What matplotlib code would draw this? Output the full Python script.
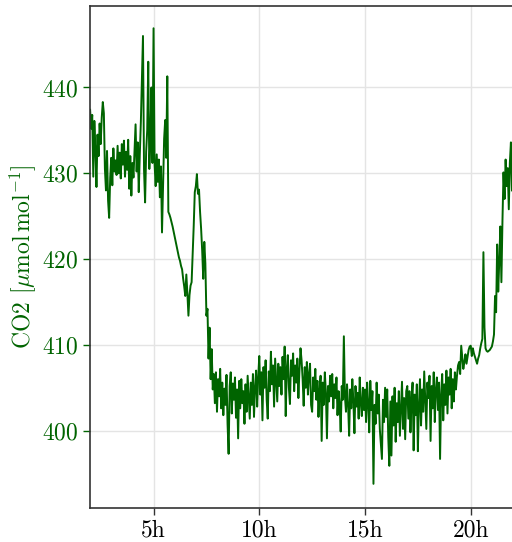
import numpy as np
import matplotlib
matplotlib.use("Agg")
import matplotlib.pyplot as plt

plt.rcParams["font.family"] = ["cmr10", "DejaVu Serif"]
plt.rcParams["mathtext.fontset"] = "cm"
plt.rcParams["axes.formatter.use_mathtext"] = True
plt.rcParams["axes.unicode_minus"] = False

# CO2 readings every 3 minutes, one row per hour of the day (2h .. 21h)
hours = np.arange(2.0, 22.0, 0.05)
co2 = [
    # 2h
    437.4, 435.2, 436.8, 429.6, 436.1, 433.0, 428.4, 434.5, 432.0, 435.8,
    433.4, 436.5, 438.3, 437.0, 430.5, 428.0, 432.6, 426.8, 424.8, 429.5,
    # 3h
    431.8, 428.6, 432.9, 430.2, 431.5, 429.8, 433.2, 430.0, 432.4, 429.4,
    433.4, 431.0, 433.8, 429.6, 432.5, 430.4, 433.9, 428.2, 432.0, 427.4,
    # 4h
    431.2, 429.5, 432.6, 435.7, 430.2, 433.6, 427.8, 432.2, 436.0, 441.0,
    446.0, 430.4, 426.6, 432.5, 435.0, 443.0, 430.5, 434.2, 440.0, 431.2,
    # 5h
    446.9, 431.0, 428.5, 432.2, 429.0, 431.6, 427.2, 430.8, 423.1, 428.4,
    434.0, 436.2, 431.8, 441.3, 425.5, 425.2, 424.8, 424.3, 423.8, 423.2,
    # 6h
    422.6, 422.0, 421.4, 420.8, 420.2, 419.8, 419.2, 418.8, 417.7, 416.8,
    415.7, 418.2, 416.0, 413.4, 415.8, 416.9, 417.3, 420.5, 423.9, 427.8,
    # 7h
    428.5, 429.9, 427.6, 428.1, 425.5, 423.5, 421.0, 417.7, 422.0, 419.5,
    413.4, 414.2, 408.4, 412.0, 406.0, 409.5, 404.8, 406.6, 403.2, 406.8,
    # 8h
    402.2, 406.0, 404.0, 407.2, 402.6, 405.6, 401.8, 404.9, 403.0, 406.5,
    400.8, 397.3, 405.2, 406.8, 402.0, 405.5, 403.6, 406.2, 401.5, 404.8,
    # 9h
    399.1, 405.8, 402.6, 406.0, 403.2, 404.6, 400.8, 405.4, 402.2, 406.4,
    403.8, 401.4, 405.6, 403.0, 406.6, 401.6, 405.0, 407.0, 402.8, 406.2,
    # 10h
    408.7, 404.2, 406.8, 401.2, 407.4, 405.0, 408.2, 403.6, 401.4, 406.9,
    404.6, 409.2, 405.4, 407.6, 402.8, 408.4, 405.8, 403.4, 407.8, 405.2,
    # 11h
    407.4, 404.2, 408.6, 406.0, 409.8, 401.7, 407.2, 408.8, 405.0, 403.1,
    408.2, 406.4, 409.0, 404.6, 407.6, 405.6, 408.4, 403.8, 407.0, 409.6,
    # 12h
    408.2, 406.0, 402.9, 407.4, 405.0, 408.0, 404.2, 406.6, 407.8, 403.0,
    402.2, 406.2, 404.6, 407.2, 403.6, 405.8, 401.6, 404.8, 406.4, 398.8,
    # 13h
    405.6, 403.0, 406.8, 404.4, 399.1, 405.2, 403.4, 406.4, 404.0, 406.6,
    402.6, 405.4, 403.8, 406.2, 401.8, 404.6, 403.0, 399.9, 405.2, 403.6,
    # 14h
    411.0, 404.0, 402.2, 405.4, 403.0, 399.4, 404.8, 402.6, 406.0, 403.4,
    399.7, 405.2, 402.8, 404.4, 401.4, 406.2, 403.2, 401.7, 405.0, 402.4,
    # 15h
    404.8, 401.0, 405.6, 403.2, 399.8, 405.8, 402.4, 404.6, 393.8, 403.0,
    400.8, 405.6, 402.0, 404.2, 400.2, 398.4, 396.7, 403.6, 401.0, 405.0,
    # 16h
    401.6, 404.8, 399.2, 395.9, 403.4, 397.1, 404.0, 400.6, 405.0, 398.7,
    403.2, 401.0, 404.6, 399.4, 402.6, 405.7, 400.2, 403.8, 399.0, 404.6,
    # 17h
    405.2, 401.4, 404.6, 399.8, 403.6, 405.6, 397.7, 404.2, 401.8, 405.4,
    397.6, 403.0, 406.0, 400.6, 404.8, 402.2, 406.9, 403.4, 400.2, 405.6,
    # 18h
    403.8, 406.4, 398.8, 405.2, 402.6, 406.8, 401.0, 404.8, 406.2, 402.4,
    405.6, 396.7, 404.2, 406.6, 401.2, 405.4, 403.0, 407.0, 402.0, 406.2,
    # 19h
    404.2, 407.2, 402.6, 406.0, 403.4, 406.8, 404.8, 406.4, 407.6, 408.0,
    406.6, 409.9, 408.6, 407.2, 408.0, 408.9, 407.8, 408.6, 409.4, 409.8,
    # 20h
    409.9, 408.7, 409.6, 409.0, 408.6, 408.2, 407.8, 408.4, 408.8, 409.6,
    410.2, 410.7, 420.8, 412.0, 409.6, 409.3, 409.2, 409.3, 409.4, 409.6,
    # 21h
    409.8, 410.4, 411.2, 415.7, 413.8, 421.7, 416.2, 419.8, 423.8, 417.3,
    424.4, 430.1, 427.0, 431.6, 428.5, 430.6, 425.8, 431.2, 433.6, 428.0,
]

x_ticks = [5, 10, 15, 20]
x_tick_labels = ["5h", "10h", "15h", "20h"]
y_ticks = [400, 410, 420, 430, 440]

green = "darkgreen"

fig = plt.figure(figsize=(5.12, 5.42), dpi=100)
ax = fig.add_axes([0.176, 0.063, 0.826, 0.926])

ax.plot(hours, co2, color=green, lw=1.4)

ax.set_xlim(2, 22)
ax.set_ylim(391, 449.5)
ax.set_xticks(x_ticks)
ax.set_xticklabels(x_tick_labels)
ax.set_yticks(y_ticks)

ax.grid(True, color="#e4e4e4", lw=1.0)
ax.set_axisbelow(True)

ax.tick_params(axis="x", labelsize=17, length=5, width=1, color="#333333", colors="black")
ax.tick_params(axis="y", labelsize=17, length=5, width=1, color=green, labelcolor=green)

ax.set_ylabel(r"CO2 [$\mu\mathrm{mol\,mol}^{-1}$]", fontsize=17, color=green, labelpad=3)

for side in ["left", "bottom", "top"]:
    ax.spines[side].set_color("#333333")
    ax.spines[side].set_linewidth(1.2)
ax.spines["right"].set_visible(False)

fig.savefig("out.png", dpi=100)
